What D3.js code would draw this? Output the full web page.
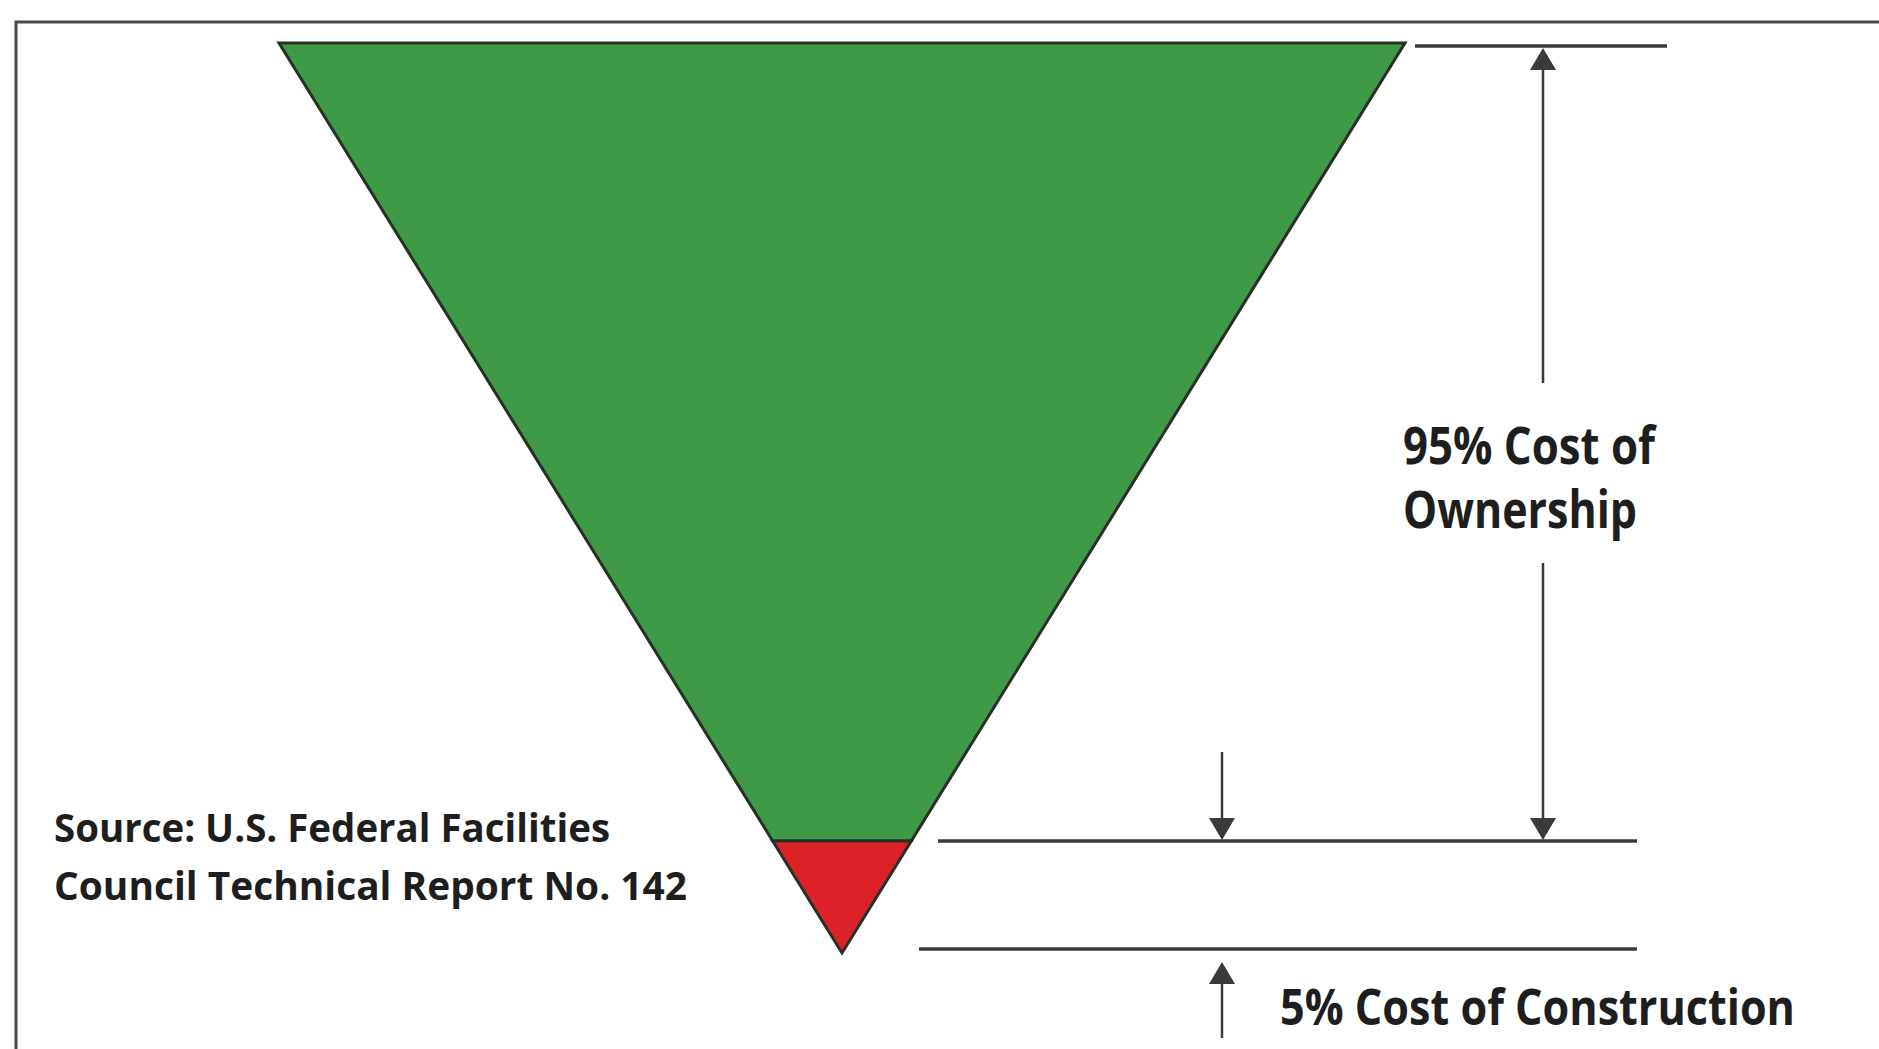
<!DOCTYPE html>
<html><head><meta charset="utf-8">
<script src="https://cdn.jsdelivr.net/npm/d3@7"></script>
<style>html,body{margin:0;padding:0;background:#fff;}svg{display:block;}</style>
</head><body>
<svg id="c" width="1879" height="1049"></svg>
<script>
// ---- data ----
const segments = ["Cost of Ownership", "Cost of Construction"];
const shares = [95, 5];                       // percent of lifetime cost
const segmentColors = ["#3f9a47", "#dc2228"];
const labelLines = [["95% Cost of", "Ownership"], ["5% Cost of Construction"]];
const sourceLines = ["Source: U.S. Federal Facilities", "Council Technical Report No. 142"];

// ---- layout ----
const W = 1879, H = 1049;
const svg = d3.select("#c");
const topY = 43, apexY = 953, cx = 842, halfTop = 563, boundaryY = 841;
const cum = d3.cumsum(shares); // [95,100]
// piecewise scale: cumulative share -> vertical position (schematic funnel)
const y = d3.scaleLinear().domain([0, cum[0], cum[1]]).range([topY, boundaryY, apexY]);
const half = d3.scaleLinear().domain([topY, apexY]).range([halfTop, 0]);

// frame
svg.append("rect").attr("x", 16).attr("y", 22).attr("width", W).attr("height", H)
  .attr("fill", "none").attr("stroke", "#4a4a4a").attr("stroke-width", 3);

// funnel segments
const bands = shares.map((s, i) => ({name: segments[i], y0: y(i ? cum[i-1] : 0), y1: y(cum[i]), color: segmentColors[i]}));
svg.selectAll("path.seg").data(bands).join("path").attr("class", "seg")
  .attr("d", d => {
    const h0 = half(d.y0), h1 = half(d.y1);
    return `M${cx-h0},${d.y0}L${cx+h0},${d.y0}L${cx+h1},${d.y1}L${cx-h1},${d.y1}Z`;
  })
  .attr("fill", d => d.color).attr("stroke", "#263026").attr("stroke-width", 3)
  .attr("stroke-linejoin", "miter");

// dimension lines
const ink = "#3a3a3a";
const hl = (x1, x2, yy) => svg.append("line").attr("x1", x1).attr("x2", x2).attr("y1", yy).attr("y2", yy)
  .attr("stroke", ink).attr("stroke-width", 3.5);
hl(1415, 1667, y(0) + 3);
hl(938, 1637, y(cum[0]));
hl(919, 1637, y(cum[1]) - 4);

const vl = (x, y1, y2) => svg.append("line").attr("x1", x).attr("x2", x).attr("y1", y1).attr("y2", y2)
  .attr("stroke", ink).attr("stroke-width", 2.5);
const head = (x, tipY, dir) => { // dir: -1 up, +1 down
  const b = tipY - dir * 22;
  svg.append("path").attr("d", `M${x},${tipY}L${x-13},${b}L${x+13},${b}Z`).attr("fill", ink);
};
// 95% arrow (two-headed, broken by label)
const ax = 1543;
vl(ax, y(0) + 20, 383); vl(ax, 563, y(cum[0]) - 10);
head(ax, y(0) + 5, -1); head(ax, y(cum[0]) - 1, 1);
// 5% arrows
const bx = 1222;
vl(bx, 752, y(cum[0]) - 10); head(bx, y(cum[0]) - 1, 1);
vl(bx, y(cum[1]) + 20, 1038); head(bx, y(cum[1]) + 9, -1);

// labels
const txt = (s, x, yy, size, len) => svg.append("text").attr("x", x).attr("y", yy)
  .attr("font-family", "'Open Sans', sans-serif").attr("font-weight", 700).attr("font-size", size)
  .attr("fill", "#1e1e1e").attr("textLength", len).attr("lengthAdjust", "spacingAndGlyphs").text(s);
txt(labelLines[0][0], 1403, 464, 52, 252);
txt(labelLines[0][1], 1403, 528, 52, 234);
txt(labelLines[1][0], 1280, 1025, 50, 515);
txt(sourceLines[0], 54, 842, 40, 556);
txt(sourceLines[1], 54, 900, 40, 633);
</script>
</body></html>
